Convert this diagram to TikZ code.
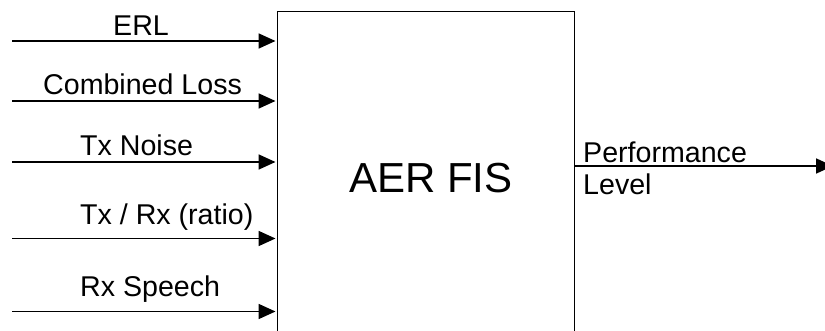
\documentclass[tikz,border=0pt]{standalone}
\usepackage{fontspec}
\setmainfont{Liberation Sans}
\usetikzlibrary{arrows.meta}
\begin{document}
\begin{tikzpicture}[x=1pt,y=-1pt,
 lbl/.style={anchor=base west, inner sep=0pt, font=\fontsize{28.6}{33}\selectfont},
 inarrow/.style={line width=1.8pt, -{Triangle[length=17pt,width=15pt]}, shorten >=1.5pt},
 blockbox/.style={draw, line width=1.3pt, minimum width=297pt, minimum height=360pt, inner sep=0pt, anchor=north west}]
\useasboundingbox (0,0) rectangle (825,331);
\node[blockbox] (fis) at (277,11) {};
\node[font=\fontsize{42}{48}\selectfont, anchor=base, inner sep=0pt] (title) at (431,193) {AER FIS};
% inputs
\coordinate (s1) at (12,41);
\coordinate (s2) at (12,101);
\coordinate (s3) at (12,162);
\coordinate (s4) at (12,238.5);
\coordinate (s5) at (12,311.5);
\draw[inarrow] (s1) -- (s1 -| fis.west);
\draw[inarrow] (s2) -- (s2 -| fis.west);
\draw[inarrow] (s3) -- (s3 -| fis.west);
\draw[inarrow] (s4) -- (s4 -| fis.west);
\draw[inarrow] (s5) -- (s5 -| fis.west);
\node[lbl] (l1) at (113,36) {ERL};
\node[lbl] (l2) at (43,95) {Combined Loss};
\node[lbl] (l3) at (80,156) {Tx Noise};
\node[lbl] (l4) at (80,225) {Tx / Rx (ratio)};
\node[lbl] (l5) at (80,297) {Rx Speech};
% output
\coordinate (oend) at (833,166);
\draw[inarrow, shorten >=0pt] (fis.east |- oend) -- (oend);
\node[lbl] (o1) at (583,163) {Performance};
\node[lbl] (o2) at (583,195) {Level};
\end{tikzpicture}
\end{document}
